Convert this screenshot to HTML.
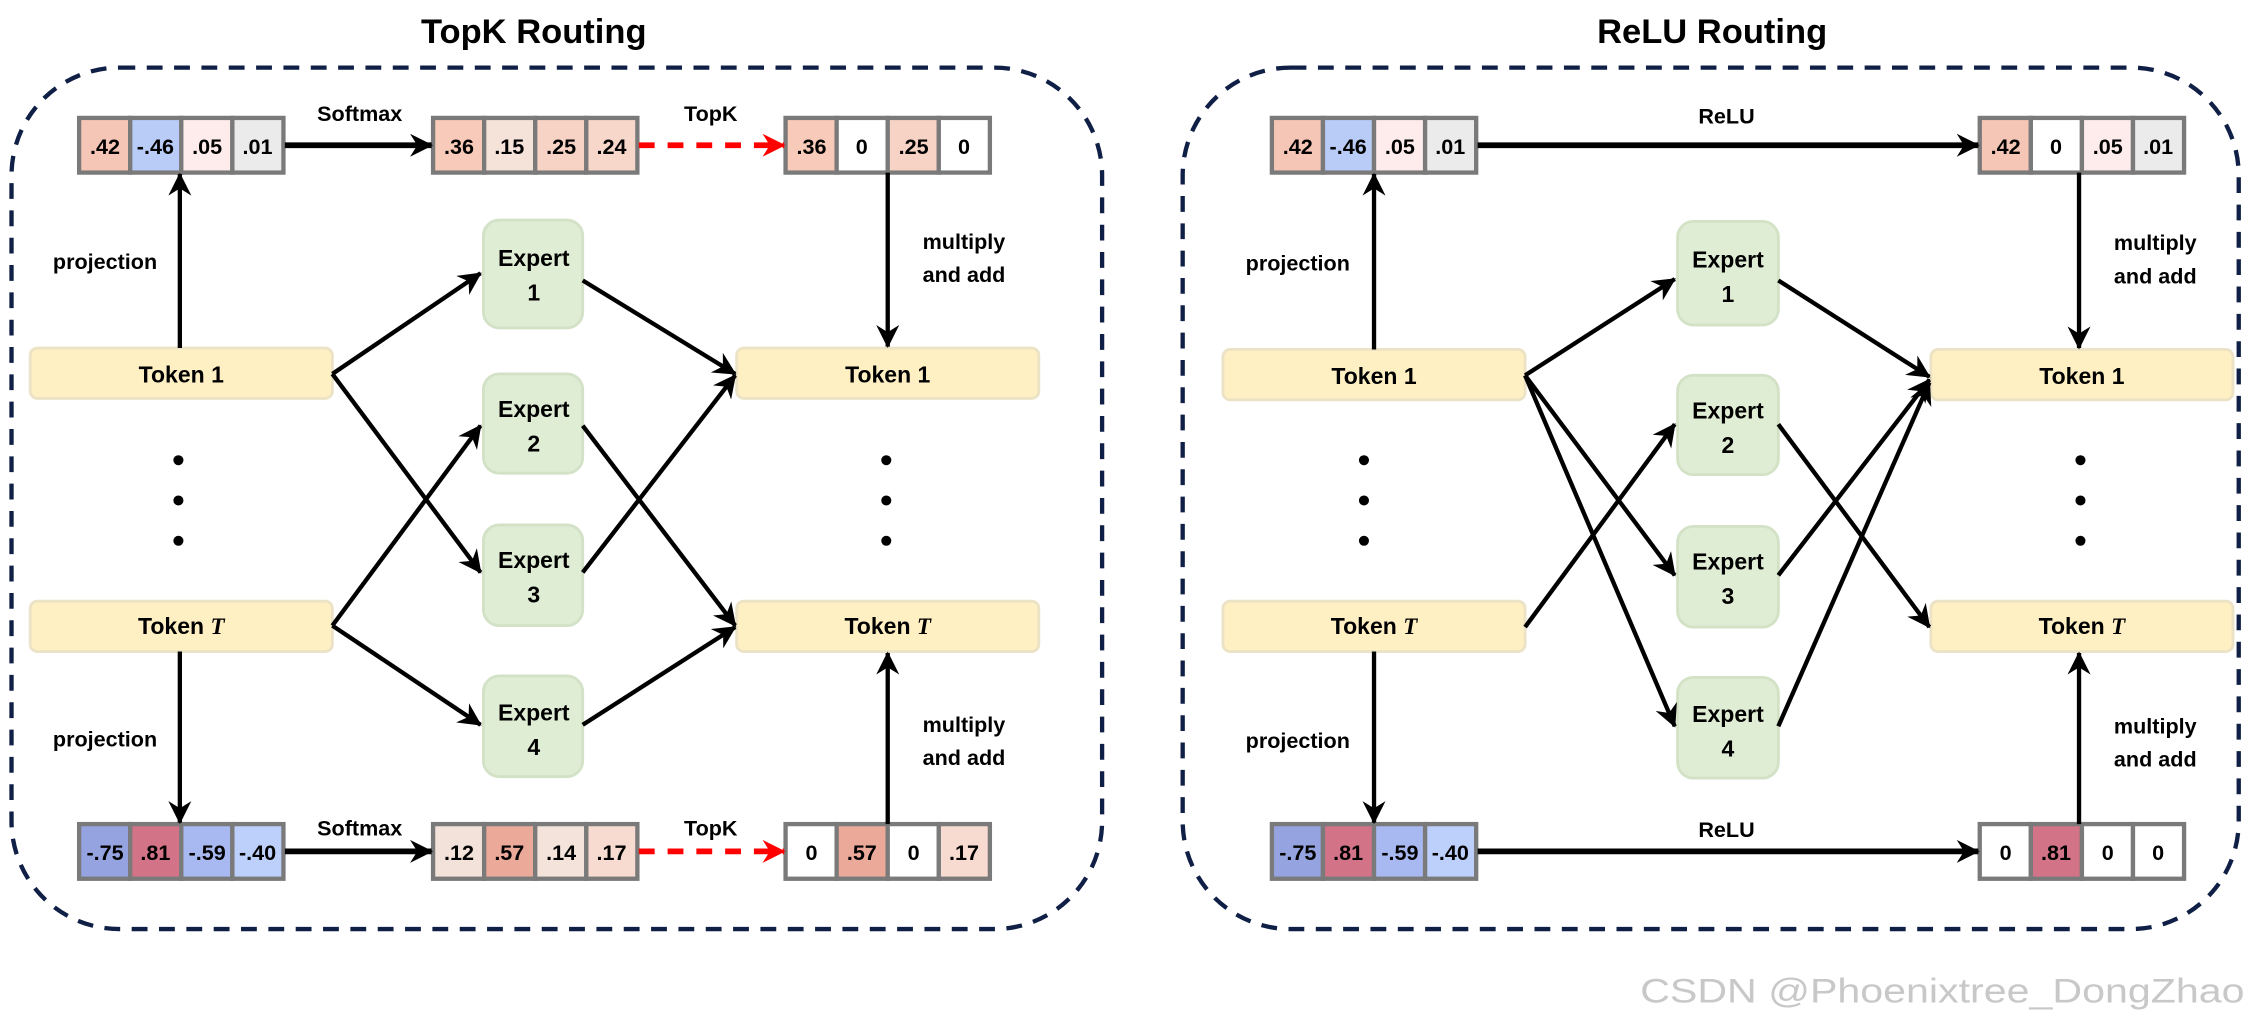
<!DOCTYPE html>
<html><head><meta charset="utf-8"><style>
html,body{margin:0;padding:0;background:#fff;}
svg{display:block;}
text{font-family:"Liberation Sans",sans-serif;font-weight:bold;fill:#000;}
</style></head><body>
<svg width="2256" height="1024" viewBox="0 0 1568 712" preserveAspectRatio="none" xmlns="http://www.w3.org/2000/svg">
<defs>
<marker id="ab" markerUnits="userSpaceOnUse" markerWidth="18" markerHeight="16" refX="15" refY="8" orient="auto"><path d="M0,0 L16,8 L0,16 L5,8 Z" fill="#000"/></marker>
<marker id="ar" markerUnits="userSpaceOnUse" markerWidth="18" markerHeight="16" refX="15" refY="8" orient="auto"><path d="M0,0 L16,8 L0,16 L5,8 Z" fill="#f00"/></marker>
</defs>
<text x="371" y="30" font-size="24" text-anchor="middle">TopK Routing</text>
<text x="1190" y="30" font-size="24" text-anchor="middle">ReLU Routing</text>
<rect x="8" y="47" width="758" height="599" rx="75" fill="none" stroke="#0f1f45" stroke-width="3" stroke-dasharray="11,8"/>
<rect x="822" y="47" width="734" height="599" rx="75" fill="none" stroke="#0f1f45" stroke-width="3" stroke-dasharray="11,8"/>

<g stroke="#7a7a7a" stroke-width="3">
<g transform="translate(55,82)"><rect x="0" width="35.5" height="38" fill="#f5c6b5"/><rect x="35.5" width="35.5" height="38" fill="#b9cbf7"/><rect x="71" width="35.5" height="38" fill="#fdeceb"/><rect x="106.5" width="35.5" height="38" fill="#ebebeb"/></g>
<g transform="translate(301,82)"><rect x="0" width="35.5" height="38" fill="#f7cab9"/><rect x="35.5" width="35.5" height="38" fill="#f5e2d8"/><rect x="71" width="35.5" height="38" fill="#f7d3c5"/><rect x="106.5" width="35.5" height="38" fill="#f7d7ca"/></g>
<g transform="translate(546,82)"><rect x="0" width="35.5" height="38" fill="#f7cab9"/><rect x="35.5" width="35.5" height="38" fill="#fff"/><rect x="71" width="35.5" height="38" fill="#f7d3c5"/><rect x="106.5" width="35.5" height="38" fill="#fff"/></g>
<g transform="translate(55,573)"><rect x="0" width="35.5" height="38" fill="#95a4e0"/><rect x="35.5" width="35.5" height="38" fill="#d27388"/><rect x="71" width="35.5" height="38" fill="#a8b9f1"/><rect x="106.5" width="35.5" height="38" fill="#bdd0fb"/></g>
<g transform="translate(301,573)"><rect x="0" width="35.5" height="38" fill="#f3e2da"/><rect x="35.5" width="35.5" height="38" fill="#eba99a"/><rect x="71" width="35.5" height="38" fill="#f4e3da"/><rect x="106.5" width="35.5" height="38" fill="#f7dbd0"/></g>
<g transform="translate(546,573)"><rect x="0" width="35.5" height="38" fill="#fff"/><rect x="35.5" width="35.5" height="38" fill="#eba99a"/><rect x="71" width="35.5" height="38" fill="#fff"/><rect x="106.5" width="35.5" height="38" fill="#f7dbd0"/></g>
<g transform="translate(884,82)"><rect x="0" width="35.5" height="38" fill="#f5c6b5"/><rect x="35.5" width="35.5" height="38" fill="#b9cbf7"/><rect x="71" width="35.5" height="38" fill="#fdeceb"/><rect x="106.5" width="35.5" height="38" fill="#ebebeb"/></g>
<g transform="translate(1376,82)"><rect x="0" width="35.5" height="38" fill="#f5c6b5"/><rect x="35.5" width="35.5" height="38" fill="#fff"/><rect x="71" width="35.5" height="38" fill="#fdeceb"/><rect x="106.5" width="35.5" height="38" fill="#ebebeb"/></g>
<g transform="translate(884,573)"><rect x="0" width="35.5" height="38" fill="#95a4e0"/><rect x="35.5" width="35.5" height="38" fill="#d27388"/><rect x="71" width="35.5" height="38" fill="#a8b9f1"/><rect x="106.5" width="35.5" height="38" fill="#bdd0fb"/></g>
<g transform="translate(1376,573)"><rect x="0" width="35.5" height="38" fill="#fff"/><rect x="35.5" width="35.5" height="38" fill="#d27388"/><rect x="71" width="35.5" height="38" fill="#fff"/><rect x="106.5" width="35.5" height="38" fill="#fff"/></g>
</g>

<g font-size="15" text-anchor="middle">
<text x="73" y="107">.42</text><text x="108" y="107">-.46</text><text x="144" y="107">.05</text><text x="179" y="107">.01</text>
<text x="319" y="107">.36</text><text x="354" y="107">.15</text><text x="390" y="107">.25</text><text x="425" y="107">.24</text>
<text x="564" y="107">.36</text><text x="599" y="107">0</text><text x="635" y="107">.25</text><text x="670" y="107">0</text>
<text x="73" y="598">-.75</text><text x="108" y="598">.81</text><text x="144" y="598">-.59</text><text x="179" y="598">-.40</text>
<text x="319" y="598">.12</text><text x="354" y="598">.57</text><text x="390" y="598">.14</text><text x="425" y="598">.17</text>
<text x="564" y="598">0</text><text x="599" y="598">.57</text><text x="635" y="598">0</text><text x="670" y="598">.17</text>
<text x="902" y="107">.42</text><text x="937" y="107">-.46</text><text x="973" y="107">.05</text><text x="1008" y="107">.01</text>
<text x="1394" y="107">.42</text><text x="1429" y="107">0</text><text x="1465" y="107">.05</text><text x="1500" y="107">.01</text>
<text x="902" y="598">-.75</text><text x="937" y="598">.81</text><text x="973" y="598">-.59</text><text x="1008" y="598">-.40</text>
<text x="1394" y="598">0</text><text x="1429" y="598">.81</text><text x="1465" y="598">0</text><text x="1500" y="598">0</text>
</g>

<g fill="#fff0c4" stroke="#ece3c6" stroke-width="2">
<rect x="21" y="242" width="210" height="35" rx="5"/><rect x="21" y="418" width="210" height="35" rx="5"/>
<rect x="512" y="242" width="210" height="35" rx="5"/><rect x="512" y="418" width="210" height="35" rx="5"/>
<rect x="850" y="243" width="210" height="35" rx="5"/><rect x="850" y="418" width="210" height="35" rx="5"/>
<rect x="1342" y="243" width="210" height="35" rx="5"/><rect x="1342" y="418" width="210" height="35" rx="5"/>
</g>
<g font-size="16" text-anchor="middle">
<text x="126" y="266">Token 1</text><text x="126" y="441">Token <tspan font-family="Liberation Serif" font-style="italic">T</tspan></text>
<text x="617" y="266">Token 1</text><text x="617" y="441">Token <tspan font-family="Liberation Serif" font-style="italic">T</tspan></text>
<text x="955" y="267">Token 1</text><text x="955" y="441">Token <tspan font-family="Liberation Serif" font-style="italic">T</tspan></text>
<text x="1447" y="267">Token 1</text><text x="1447" y="441">Token <tspan font-family="Liberation Serif" font-style="italic">T</tspan></text>
</g>
<g fill="#e0edd5" stroke="#d3e2c7" stroke-width="2">
<rect x="336" y="153" width="69" height="75" rx="11"/><rect x="336" y="260" width="69" height="69" rx="11"/>
<rect x="336" y="365" width="69" height="70" rx="11"/><rect x="336" y="470" width="69" height="70" rx="11"/>
<rect x="1166" y="154" width="70" height="72" rx="11"/><rect x="1166" y="261" width="70" height="69" rx="11"/>
<rect x="1166" y="366" width="70" height="70" rx="11"/><rect x="1166" y="471" width="70" height="70" rx="11"/>
</g>
<g font-size="16" text-anchor="middle">
<text x="371" y="185">Expert</text><text x="371" y="209">1</text>
<text x="371" y="290">Expert</text><text x="371" y="314">2</text>
<text x="371" y="395">Expert</text><text x="371" y="419">3</text>
<text x="371" y="501">Expert</text><text x="371" y="525">4</text>
<text x="1201" y="186">Expert</text><text x="1201" y="210">1</text>
<text x="1201" y="291">Expert</text><text x="1201" y="315">2</text>
<text x="1201" y="396">Expert</text><text x="1201" y="420">3</text>
<text x="1201" y="502">Expert</text><text x="1201" y="526">4</text>
</g>
<g fill="#000"><circle cx="124" cy="320" r="3.5"/><circle cx="124" cy="348" r="3.5"/><circle cx="124" cy="376" r="3.5"/>
<circle cx="616" cy="320" r="3.5"/><circle cx="616" cy="348" r="3.5"/><circle cx="616" cy="376" r="3.5"/>
<circle cx="948" cy="320" r="3.5"/><circle cx="948" cy="348" r="3.5"/><circle cx="948" cy="376" r="3.5"/>
<circle cx="1446" cy="320" r="3.5"/><circle cx="1446" cy="348" r="3.5"/><circle cx="1446" cy="376" r="3.5"/></g>

<g font-size="15" text-anchor="middle">
<text x="250" y="84">Softmax</text><text x="494" y="84">TopK</text>
<text x="250" y="581">Softmax</text><text x="494" y="581">TopK</text>
<text x="73" y="187">projection</text><text x="73" y="519">projection</text>
<text x="670" y="173">multiply</text><text x="670" y="196">and add</text>
<text x="670" y="509">multiply</text><text x="670" y="532">and add</text>
<text x="1200" y="86">ReLU</text><text x="1200" y="582">ReLU</text>
<text x="902" y="188">projection</text><text x="902" y="520">projection</text>
<text x="1498" y="174">multiply</text><text x="1498" y="197">and add</text>
<text x="1498" y="510">multiply</text><text x="1498" y="533">and add</text>
</g>

<g stroke="#000" stroke-width="3" fill="none" marker-end="url(#ab)">
<line x1="198" y1="101" x2="300" y2="101" stroke-width="4"/>
<line x1="198" y1="592" x2="300" y2="592" stroke-width="4"/>
<line x1="125" y1="242" x2="125" y2="121"/>
<line x1="125" y1="453" x2="125" y2="572"/>
<line x1="617" y1="120" x2="617" y2="241"/>
<line x1="617" y1="573" x2="617" y2="454"/>
<line x1="231" y1="260" x2="334" y2="190"/>
<line x1="231" y1="260" x2="334" y2="398"/>
<line x1="231" y1="435" x2="334" y2="296"/>
<line x1="231" y1="435" x2="334" y2="504"/>
<line x1="405" y1="195" x2="511" y2="260"/>
<line x1="405" y1="296" x2="511" y2="435"/>
<line x1="405" y1="398" x2="511" y2="261"/>
<line x1="405" y1="504" x2="511" y2="436"/>
<line x1="1027" y1="101" x2="1375" y2="101" stroke-width="4"/>
<line x1="1027" y1="592" x2="1375" y2="592" stroke-width="4"/>
<line x1="955" y1="243" x2="955" y2="121"/>
<line x1="955" y1="453" x2="955" y2="572"/>
<line x1="1445" y1="120" x2="1445" y2="242"/>
<line x1="1445" y1="573" x2="1445" y2="454"/>
<line x1="1060" y1="261" x2="1164" y2="194"/>
<line x1="1060" y1="261" x2="1164" y2="400"/>
<line x1="1060" y1="261" x2="1164" y2="505"/>
<line x1="1060" y1="436" x2="1164" y2="295"/>
<line x1="1236" y1="195" x2="1341" y2="262"/>
<line x1="1236" y1="295" x2="1341" y2="436"/>
<line x1="1236" y1="400" x2="1341" y2="264"/>
<line x1="1236" y1="505" x2="1341" y2="266"/>
</g>
<g stroke="#f00" stroke-width="4" fill="none" stroke-dasharray="11,9" marker-end="url(#ar)">
<line x1="444" y1="101" x2="545" y2="101"/>
<line x1="444" y1="592" x2="545" y2="592"/>
</g>
<text x="1560" y="697" font-size="24" text-anchor="end" textLength="420" lengthAdjust="spacingAndGlyphs" style="font-weight:normal;fill:#c8c8c8">CSDN @Phoenixtree_DongZhao</text>
</svg>
</body></html>
